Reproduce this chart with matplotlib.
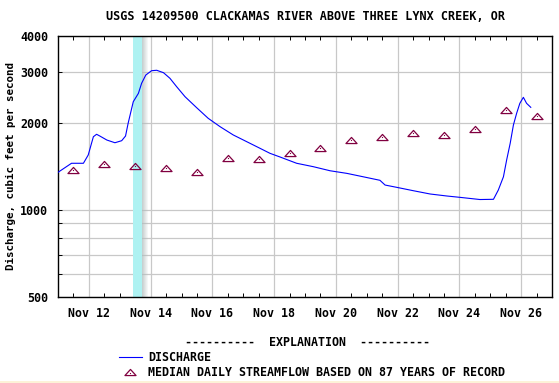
import pandas as pd
import numpy as np
import matplotlib
matplotlib.use("Agg")
import matplotlib.pyplot as plt
import matplotlib.dates as mdates
from matplotlib.lines import Line2D
from matplotlib.path import Path
from matplotlib.patches import Rectangle

# discharge, cubic feet per second
discharge_time = [
    "2021-11-11 00:00", "2021-11-11 10:30", "2021-11-11 19:45", "2021-11-11 23:30",
    "2021-11-12 03:30", "2021-11-12 06:00", "2021-11-12 08:30", "2021-11-12 14:00",
    "2021-11-12 20:15", "2021-11-13 01:30", "2021-11-13 04:30", "2021-11-13 06:30",
    "2021-11-13 10:30", "2021-11-13 14:30", "2021-11-13 17:00", "2021-11-13 20:15",
    "2021-11-14 00:45", "2021-11-14 04:45", "2021-11-14 10:00", "2021-11-14 15:00",
    "2021-11-14 20:15", "2021-11-15 02:45", "2021-11-15 11:45", "2021-11-15 20:45",
    "2021-11-16 06:00", "2021-11-16 16:15", "2021-11-17 02:45", "2021-11-17 13:00",
    "2021-11-17 20:45", "2021-11-18 04:30", "2021-11-18 17:30", "2021-11-19 06:30",
    "2021-11-19 19:30", "2021-11-20 08:30", "2021-11-20 21:15", "2021-11-21 10:15",
    "2021-11-21 14:15", "2021-11-21 23:15", "2021-11-22 12:15", "2021-11-23 01:15",
    "2021-11-23 14:15", "2021-11-24 00:30", "2021-11-24 16:00", "2021-11-25 02:30",
    "2021-11-25 06:15", "2021-11-25 10:15", "2021-11-25 12:45", "2021-11-25 15:30",
    "2021-11-25 18:00", "2021-11-25 20:30", "2021-11-25 23:00", "2021-11-26 01:45",
    "2021-11-26 04:15", "2021-11-26 07:30",
]
discharge_cfs = [
    1350, 1451, 1451, 1550,
    1793, 1828, 1803, 1746,
    1709, 1737, 1803, 1994,
    2369, 2533, 2745, 2931,
    3034, 3044, 2986, 2856,
    2670, 2466, 2260, 2076,
    1942, 1818, 1723, 1635,
    1571, 1526, 1451, 1412,
    1367, 1339, 1303, 1267,
    1220, 1198, 1166, 1136,
    1118, 1106, 1087, 1089,
    1172, 1303, 1490, 1701,
    1968, 2160, 2339, 2454,
    2339, 2266,
]

# median daily streamflow (87 years of record), plotted at noon
median_days = pd.date_range("2021-11-11 12:00", periods=16, freq="D")
median_cfs = [1375, 1442, 1420, 1398, 1354, 1513, 1501, 1575,
              1639, 1746, 1789, 1847, 1818, 1907, 2218, 2115]

band_start = pd.Timestamp("2021-11-13 10:30")
band_end = pd.Timestamp("2021-11-13 17:00")
shadow_end = pd.Timestamp("2021-11-13 22:00")

yticks_major = [500, 1000, 2000, 3000, 4000]
yticks_minor = [600, 700, 800, 900]

FONT = "DejaVu Sans Mono"
FS = 8.4
MAROON = "#800040"

W, H = 559, 383
fig = plt.figure(figsize=(W / 100, H / 100), dpi=100)
ax = fig.add_axes([58 / W, 1 - 297 / H, 494 / W, 261 / H])

times = pd.to_datetime(discharge_time)

# cyan marker band with grey shadow on its right
ax.axvspan(band_start, band_end, color="#aef2f2", lw=0, zorder=1)
shadow = pd.date_range(band_end, shadow_end, periods=7)
for i in range(6):
    ax.axvspan(shadow[i], shadow[i + 1], color="#b0bcbc", alpha=0.7 * (1 - i / 6), lw=0, zorder=1)

ax.plot(times, discharge_cfs, color="#0000ff", lw=0.8, zorder=3)

tri = Path([(-1, -0.55), (1, -0.55), (0, 0.55), (-1, -0.55)],
           [Path.MOVETO, Path.LINETO, Path.LINETO, Path.CLOSEPOLY])
ax.plot(median_days, median_cfs, ls="none", marker=tri, ms=8, mfc="none",
        mec=MAROON, mew=0.9, zorder=4)
ax.plot(median_days, median_cfs, ls="none", marker="s", ms=0.8, mfc=MAROON,
        mec=MAROON, mew=0, zorder=4)

ax.set_yscale("log")
ax.set_ylim(500, 4000)
ax.set_xlim(pd.Timestamp("2021-11-11"), pd.Timestamp("2021-11-27"))

ax.yaxis.set_major_locator(matplotlib.ticker.FixedLocator(yticks_major))
ax.yaxis.set_minor_locator(matplotlib.ticker.FixedLocator(yticks_minor))
ax.yaxis.set_major_formatter(matplotlib.ticker.FixedFormatter([str(v) for v in yticks_major]))
ax.yaxis.set_minor_formatter(matplotlib.ticker.NullFormatter())

ax.xaxis.set_major_locator(mdates.DayLocator(bymonthday=range(12, 27, 2)))
ax.xaxis.set_minor_locator(mdates.HourLocator(byhour=[0, 12]))
ax.xaxis.set_major_formatter(mdates.DateFormatter("%b %d"))

ax.grid(True, which="both", axis="y", color="#c8c8c8", lw=0.9, zorder=0)
ax.grid(True, which="major", axis="x", color="#c8c8c8", lw=0.9, zorder=0)
ax.set_axisbelow(True)

ax.tick_params(axis="x", which="both", direction="in", length=3, width=0.7,
               top=True, bottom=True, pad=7, colors="black")
ax.tick_params(axis="x", which="major", length=0)
ax.tick_params(axis="y", which="both", direction="in", length=3, width=0.7,
               left=True, right=False, pad=7)
for lab in ax.get_xticklabels() + ax.get_yticklabels():
    lab.set_fontfamily(FONT)
    lab.set_fontweight("bold")
    lab.set_fontsize(FS)

for sp in ax.spines.values():
    sp.set_color("black")
    sp.set_linewidth(1.0)

fig.text(10.5 / W, 1 - 166 / H, "Discharge, cubic feet per second", rotation=90,
         ha="center", va="center", fontfamily=FONT, fontweight="bold", fontsize=7.8)

fig.text(305 / W, 1 - 17 / H, "USGS 14209500 CLACKAMAS RIVER ABOVE THREE LYNX CREEK, OR",
         ha="center", va="center", fontfamily=FONT, fontweight="bold", fontsize=8.45)

# explanation block
fig.text(307.5 / W, 1 - 343 / H, "----------  EXPLANATION  ----------",
         ha="center", va="center", fontfamily=FONT, fontweight="bold", fontsize=FS)
fig.add_artist(Line2D([119 / W, 142 / W], [1 - 357 / H, 1 - 357 / H],
                      color="#0000ff", lw=0.8))
fig.text(148 / W, 1 - 357.5 / H, "DISCHARGE", ha="left", va="center",
         fontfamily=FONT, fontweight="bold", fontsize=FS)
fig.add_artist(Line2D([130 / W], [1 - 372 / H], ls="none", marker=tri, ms=8,
                      mfc="none", mec=MAROON, mew=0.9))
fig.add_artist(Line2D([130 / W], [1 - 372.5 / H], ls="none", marker="s", ms=0.8,
                      mfc=MAROON, mec=MAROON, mew=0))
fig.text(148 / W, 1 - 373 / H, "MEDIAN DAILY STREAMFLOW BASED ON 87 YEARS OF RECORD",
         ha="left", va="center", fontfamily=FONT, fontweight="bold", fontsize=FS)

fig.add_artist(Rectangle((0, 0), 1, 2 / H, transform=fig.transFigure,
                         color="#fdf2d8", lw=0))

fig.savefig("out.png", dpi=100)
